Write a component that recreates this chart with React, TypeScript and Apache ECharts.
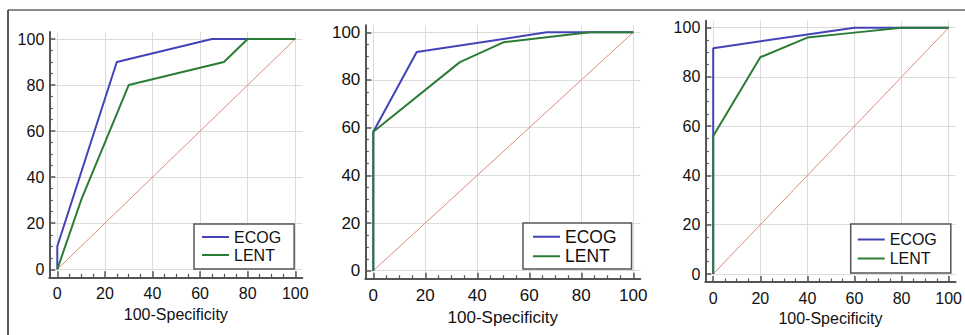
import React, { useEffect, useRef } from "react";
import * as echarts from "echarts";

// ---- data ----
const seriesNames = ["ECOG", "LENT"];
const majorTicks = [0, 20, 40, 60, 80, 100];
const minorTicks = [5, 10, 15, 25, 30, 35, 45, 50, 55, 65, 70, 75, 85, 90, 95];
const axisTitle = "100-Specificity";

const diagonal = [[0, 0], [100, 100]];

const p1Ecog = [[0, 0], [0, 10], [25, 90], [65, 100], [100, 100]];
const p1Lent = [[0, 0], [10, 30], [30, 80], [70, 90], [80, 100], [100, 100]];

const p2Ecog = [[0, 0], [0, 58.3], [16.7, 91.7], [66.7, 100], [100, 100]];
const p2Lent = [[0, 0], [0, 58.3], [33.3, 87.5], [50, 95.8], [83.3, 100], [100, 100]];

const p3Ecog = [[0, 0], [0, 91.7], [60, 100], [100, 100]];
const p3Lent = [[0, 0], [0, 56], [20, 88], [40, 96], [60, 98], [80, 100], [100, 100]];

const panelData = [
  [p1Ecog, p1Lent],
  [p2Ecog, p2Lent],
  [p3Ecog, p3Lent],
];

// ---- layout (pixel positions of value 0 / 100 in each panel) ----
const layout = [
  { x0: 57.3, x100: 295.3, y0: 269.3, y100: 39, font: 16, nameGap: 27, legend: { left: 194, top: 224, pad: [4, 13, 5, 8], lh: 18, gap: 7, font: 16 } },
  { x0: 373.3, x100: 633.3, y0: 270.7, y100: 32.3, font: 17, nameGap: 27, legend: { left: 523, top: 223, pad: [4, 15, 3, 10], lh: 19.5, gap: 8, font: 17.5 } },
  { x0: 713.3, x100: 951.7, y0: 274, y100: 27.7, font: 16, nameGap: 28, legend: { left: 850.7, top: 224, pad: [6, 14, 5, 7], lh: 19, gap: 7, font: 16 } },
];

const FONT = "'Liberation Sans', Arial, Helvetica, sans-serif";
const AXIS_COLOR = "#555";
const GRID_COLOR = "#dcdcdc";
const ECOG_COLOR = "#4343b8";
const LENT_COLOR = "#2b7d35";
const DIAG_COLOR = "#de8a7c";

export default function App() {
  const ref = useRef<HTMLDivElement>(null);

  useEffect(() => {
    if (!ref.current) return;
    const chart = echarts.init(ref.current, undefined, { renderer: "svg" });

    const grids: any[] = [];
    const xAxes: any[] = [];
    const yAxes: any[] = [];
    const series: any[] = [];
    const legends: any[] = [];

    layout.forEach((p, i) => {
      const sx = (p.x100 - p.x0) / 100;
      const sy = (p.y0 - p.y100) / 100;
      grids.push({
        left: p.x0 - 8,
        top: p.y100 - 7,
        width: p.x100 - p.x0 + 15,
        height: p.y0 - p.y100 + 15,
        containLabel: false,
      });
      const xMin = -8 / sx;
      const xMax = 100 + 7 / sx;
      const yMin = -8 / sy;
      const yMax = 100 + 7 / sy;
      const labelStyle = { color: "#111", fontSize: p.font, fontFamily: FONT };

      xAxes.push({
        type: "value",
        gridIndex: i,
        position: "bottom",
        min: xMin,
        max: xMax,
        axisLine: { show: true, onZero: false, lineStyle: { color: AXIS_COLOR, width: 2 } },
        axisTick: { show: true, inside: true, length: 6, customValues: majorTicks, lineStyle: { color: AXIS_COLOR, width: 1.5 } },
        axisLabel: { ...labelStyle, customValues: majorTicks, margin: 8 },
        splitLine: { show: true, lineStyle: { color: GRID_COLOR, width: 1 } },
        name: axisTitle,
        nameLocation: "middle",
        nameGap: p.nameGap,
        nameTextStyle: { ...labelStyle, verticalAlign: "top" },
      });
      xAxes.push({
        type: "value",
        gridIndex: i,
        position: "bottom",
        min: xMin,
        max: xMax,
        axisLine: { show: false, onZero: false },
        axisTick: { show: true, inside: true, length: 3.5, customValues: minorTicks, lineStyle: { color: AXIS_COLOR, width: 1.2 } },
        axisLabel: { show: false },
        splitLine: { show: false },
      });
      yAxes.push({
        type: "value",
        gridIndex: i,
        position: "left",
        min: yMin,
        max: yMax,
        axisLine: { show: true, onZero: false, lineStyle: { color: AXIS_COLOR, width: 2 } },
        axisTick: { show: true, inside: true, length: 6, customValues: majorTicks, lineStyle: { color: AXIS_COLOR, width: 1.5 } },
        axisLabel: { ...labelStyle, customValues: majorTicks, margin: 5 },
        splitLine: { show: true, lineStyle: { color: GRID_COLOR, width: 1 } },
      });
      yAxes.push({
        type: "value",
        gridIndex: i,
        position: "left",
        min: yMin,
        max: yMax,
        axisLine: { show: false, onZero: false },
        axisTick: { show: true, inside: true, length: 3.5, customValues: minorTicks, lineStyle: { color: AXIS_COLOR, width: 1.2 } },
        axisLabel: { show: false },
        splitLine: { show: false },
      });

      const xi = 2 * i;
      series.push({
        type: "line",
        name: "diag" + i,
        xAxisIndex: xi,
        yAxisIndex: xi,
        data: diagonal,
        symbol: "none",
        lineStyle: { color: DIAG_COLOR, width: 1 },
        itemStyle: { color: DIAG_COLOR },
        z: 2,
      });
      const [ecog, lent] = panelData[i];
      series.push({
        type: "line",
        name: seriesNames[0],
        xAxisIndex: xi,
        yAxisIndex: xi,
        data: ecog,
        symbol: "none",
        lineStyle: { color: ECOG_COLOR, width: 2 },
        itemStyle: { color: ECOG_COLOR },
        z: 3,
      });
      series.push({
        type: "line",
        name: seriesNames[1],
        xAxisIndex: xi,
        yAxisIndex: xi,
        data: lent,
        symbol: "none",
        lineStyle: { color: LENT_COLOR, width: 2 },
        itemStyle: { color: LENT_COLOR },
        z: 4,
      });

      const L = p.legend;
      legends.push({
        data: seriesNames,
        left: L.left,
        top: L.top,
        orient: "vertical",
        padding: L.pad,
        itemGap: 0,
        itemWidth: 27,
        itemHeight: 2,
        itemGap: 0,
        icon: "rect",
        itemStyle: { borderWidth: 0 },
        itemTextGap: L.gap,
        selectedMode: false,
        backgroundColor: "#fff",
        borderColor: AXIS_COLOR,
        borderWidth: 1.5,
        borderRadius: 0,
        textStyle: { color: "#111", fontSize: L.font, fontFamily: FONT, lineHeight: L.lh },
        z: 10,
      });
    });

    chart.setOption({
      animation: false,
      backgroundColor: "#fff",
      grid: grids,
      xAxis: xAxes,
      yAxis: yAxes,
      series,
      legend: legends,
      graphic: [
        { type: "line", shape: { x1: 8, y1: 10, x2: 965, y2: 10 }, style: { stroke: "#8a8a8a", lineWidth: 2 } },
        { type: "line", shape: { x1: 8, y1: 10, x2: 8, y2: 335 }, style: { stroke: "#222", lineWidth: 1.5 } },
      ],
    });

    return () => chart.dispose();
  }, []);

  return (
    <div
      ref={ref}
      style={{ position: "fixed", left: 0, top: 0, width: 965, height: 335 }}
    />
  );
}
